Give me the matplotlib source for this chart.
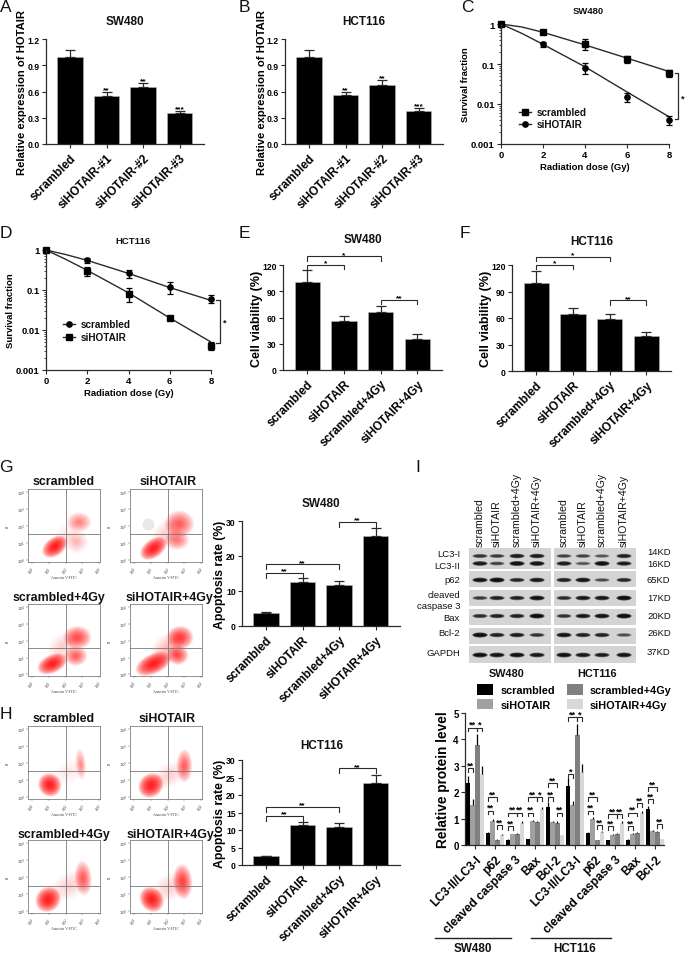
#!/usr/bin/env python3
# -*- coding: utf-8 -*-
import numpy as np
import matplotlib
matplotlib.use("Agg")
import matplotlib.pyplot as plt
from matplotlib.patches import Ellipse, Rectangle

plt.rcParams['font.family'] = ['Liberation Sans', 'DejaVu Sans']

W, H = 685, 954
LINE = '#2a2a2a'

# panels A, B
hotair_labels = ["scrambled", "siHOTAIR-#1", "siHOTAIR-#2", "siHOTAIR-#3"]
hotair_sw = [1.0, 0.55, 0.65, 0.35]
hotair_sw_err = [0.07, 0.05, 0.05, 0.03]
hotair_sw_stars = ["", "**", "**", "***"]
hotair_hct = [1.0, 0.56, 0.68, 0.38]
hotair_hct_err = [0.07, 0.04, 0.055, 0.03]

# panels C, D
dose = [0, 2, 4, 6, 8]
fit_dose = [0, 1, 2, 4, 6, 8]
surv_c_sc = [1.0, 0.62, 0.32, 0.13, 0.06]
surv_c_sc_err = [0.03, 0.05, 0.09, 0.025, 0.012]
surv_c_sc_fit = [1.0, 0.84, 0.62, 0.30, 0.14, 0.065]
surv_c_si = [1.0, 0.31, 0.08, 0.015, 0.004]
surv_c_si_err = [0.03, 0.04, 0.025, 0.004, 0.001]
surv_c_si_fit = [1.0, 0.58, 0.31, 0.085, 0.02, 0.0048]
surv_d_sc = [1.0, 0.55, 0.26, 0.12, 0.06]
surv_d_sc_err = [0.03, 0.07, 0.06, 0.04, 0.013]
surv_d_sc_fit = [1.0, 0.76, 0.55, 0.26, 0.115, 0.055]
surv_d_si = [1.0, 0.3, 0.08, 0.02, 0.004]
surv_d_si_err = [0.03, 0.07, 0.03, 0.002, 0.0009]
surv_d_si_fit = [1.0, 0.57, 0.31, 0.085, 0.02, 0.005]

# panels E, F, G, H
treat_labels = ["scrambled", "siHOTAIR", "scrambled+4Gy", "siHOTAIR+4Gy"]
viab_sw = [101, 56, 66, 36]
viab_sw_err = [13, 6, 7, 5]
viab_hct = [100, 65, 59, 40]
viab_hct_err = [13, 6.5, 5.5, 4]
apop_sw = [3.7, 12.5, 11.8, 25.6]
apop_sw_err = [0.2, 1.2, 1.0, 2.4]
apop_hct = [2.5, 11.3, 11.0, 23.5]
apop_hct_err = [0.2, 1.0, 0.9, 2.2]

# flow clusters: x, y (decades), rx, ry, angle, strength
flow_g1 = [(1.35, 0.8, 0.85, 0.55, 35, 1.0), (2.8, 2.25, 0.75, 0.6, 0, 0.3), (2.65, 1.1, 0.7, 0.7, 0, 0.18), (2.0, 1.5, 1.0, 0.6, 40, 0.07)]
flow_g2 = [(1.15, 0.7, 0.9, 0.55, 35, 1.0), (2.7, 2.15, 0.9, 0.8, 0, 0.45), (2.55, 1.2, 0.75, 0.6, 0, 0.38), (1.9, 1.6, 1.1, 0.7, 40, 0.12)]
flow_g3 = [(1.2, 0.63, 0.95, 0.55, 25, 1.0), (2.7, 2.2, 0.85, 0.7, 0, 0.55), (2.6, 1.1, 0.7, 0.6, 0, 0.45), (1.8, 1.7, 1.0, 0.7, 40, 0.12)]
flow_g4 = [(1.15, 0.63, 1.15, 0.6, 25, 1.0), (2.75, 2.2, 0.8, 0.7, 0, 0.7), (2.6, 1.15, 0.65, 0.6, 0, 0.6), (2.0, 1.6, 1.2, 0.8, 40, 0.16)]
flow_h1 = [(1.05, 0.73, 0.68, 0.72, 45, 1.0), (2.9, 1.95, 0.32, 0.95, 5, 0.28), (2.2, 1.5, 1.1, 0.7, 30, 0.07)]
flow_h2 = [(1.0, 0.7, 0.8, 0.7, 40, 1.0), (3.0, 1.85, 0.48, 1.0, 0, 0.45), (2.1, 1.3, 1.1, 0.7, 30, 0.1)]
flow_h3 = [(0.95, 0.7, 0.8, 0.72, 45, 1.0), (3.05, 1.95, 0.52, 1.05, 5, 0.45), (2.2, 1.5, 1.2, 0.8, 30, 0.12)]
flow_h4 = [(1.05, 0.7, 0.68, 0.8, 40, 1.0), (2.9, 1.75, 0.58, 1.05, 5, 0.65), (2.1, 1.4, 1.1, 0.8, 30, 0.1)]

# blot band darkness per row/lane
blot_rows = ["LC3-I", "LC3-II", "p62", "cleaved", "Bax", "Bcl-2", "GAPDH"]
blot_sw = [[0.6, 0.55, 0.8, 0.8], [0.85, 0.5, 0.95, 0.9], [0.9, 1.0, 0.7, 0.85],
           [0.55, 0.75, 0.75, 0.95], [0.65, 0.75, 0.75, 1.0], [1.0, 0.75, 0.8, 0.6], [0.95, 0.9, 0.95, 0.85]]
blot_hct = [[0.5, 0.5, 0.4, 0.75], [0.8, 0.4, 0.95, 0.8], [0.75, 0.9, 0.45, 0.7],
            [0.65, 0.85, 0.85, 1.0], [0.6, 0.85, 0.9, 1.0], [0.9, 0.75, 0.75, 0.45], [0.95, 0.85, 0.8, 0.9]]
kd_labels = ["14KD", "16KD", "65KD", "17KD", "20KD", "26KD", "37KD"]

# panel I
protein_labels = ["LC3-II/LC3-I", "p62", "cleaved caspase 3", "Bax", "Bcl-2"] * 2
prot_sc = [2.35, 0.45, 0.2, 0.22, 1.43, 2.25, 0.47, 0.18, 0.2, 1.35]
prot_si = [1.5, 0.92, 0.4, 0.9, 0.87, 1.5, 1.0, 0.38, 0.43, 0.52]
prot_sc4 = [3.8, 0.2, 0.42, 0.87, 0.85, 4.15, 0.18, 0.42, 0.45, 0.5]
prot_si4 = [2.7, 0.38, 0.85, 1.35, 0.37, 2.75, 0.48, 0.85, 1.2, 0.22]
prot_sc_err = [0.25, 0.03, 0.02, 0.02, 0.2, 0.3, 0.03, 0.02, 0.02, 0.12]
prot_si_err = [0.25, 0.07, 0.03, 0.05, 0.05, 0.15, 0.05, 0.03, 0.03, 0.03]
prot_sc4_err = [0.4, 0.02, 0.03, 0.05, 0.05, 0.45, 0.02, 0.03, 0.03, 0.03]
prot_si4_err = [0.3, 0.05, 0.05, 0.1, 0.02, 0.3, 0.05, 0.05, 0.1, 0.02]
prot_colors = ['black', '#a0a0a0', '#808080', '#d8d8d8']
prot_names = ["scrambled", "siHOTAIR", "scrambled+4Gy", "siHOTAIR+4Gy"]
sig_group = [0, 0, 0, 1, 1, 1, 2, 2, 2, 3, 3, 3, 4, 4, 4, 5, 5, 5, 6, 6, 6, 7, 7, 7, 8, 8, 8, 9, 9, 9]
sig_left = [0, 0, 2] * 10
sig_right = [1, 2, 3] * 10
sig_y = [2.9, 4.45, 4.45, 1.3, 1.8, 0.75, 0.72, 1.23, 1.23, 1.23, 1.82, 1.82, 1.8, 2.33, 1.23,
         2.68, 4.83, 4.83, 1.3, 1.8, 0.76, 0.72, 1.16, 1.16, 0.72, 1.23, 1.58, 1.73, 2.2, 0.78]
sig_text = ["**", "**", "*", "**", "**", "**", "**", "**", "**", "**", "**", "*", "**", "**", "**",
            "*", "**", "*", "**", "**", "**", "**", "**", "**", "**", "**", "**", "**", "**", "**"]


fig = plt.figure(figsize=(W / 100, H / 100), dpi=100)
over = fig.add_axes([0, 0, 1, 1], zorder=5)
over.set_xlim(0, W)
over.set_ylim(H, 0)
over.axis('off')


def axes_px(x0, y0, x1, y1):
    return fig.add_axes([x0 / W, 1 - y1 / H, (x1 - x0) / W, (y1 - y0) / H])


def label(x, y, s, size=8, weight='bold', ha='center', rot=0, **kw):
    over.text(x, y, s, fontsize=size, fontweight=weight, ha=ha, va='center', rotation=rot, color='#111111', **kw)


def style(ax, ticksize=6.2):
    for side in ['top', 'right']:
        ax.spines[side].set_visible(False)
    for side in ['left', 'bottom']:
        ax.spines[side].set_linewidth(0.9)
        ax.spines[side].set_color(LINE)
    ax.tick_params(length=3, width=0.8, color=LINE, pad=1.5, labelsize=ticksize)
    for t in ax.get_yticklabels() + ax.get_xticklabels():
        t.set_fontweight('bold')


def bracket(ax, x0, x1, y, drop, text, size=6, lw=0.8):
    ax.plot([x0, x0, x1, x1], [y - drop, y, y, y - drop], color=LINE, lw=lw, clip_on=False, solid_joinstyle='miter')
    ax.text((x0 + x1) / 2, y - drop * 0.35, text, ha='center', va='bottom', fontsize=size, fontweight='bold', clip_on=False)


def bar_panel(box, ymax, yticks, vals, errs, names, ylab, ylab_x, lab_size=8.5, ylab_size=9):
    ax = axes_px(*box)
    xpos = np.arange(len(vals))
    ax.bar(xpos, vals, width=0.69, color='black', edgecolor='#b5b5b5', linewidth=0.4)
    ax.errorbar(xpos, vals, yerr=[np.zeros(len(vals)), errs], fmt='none', ecolor=LINE, elinewidth=0.9, capsize=3.8, capthick=0.9)
    ax.set_xlim(-0.66, 3.67)
    ax.set_ylim(0, ymax)
    ax.set_yticks(yticks)
    ax.set_xticks(xpos)
    ax.set_xticklabels(names, rotation=45, ha='right', rotation_mode='anchor', fontsize=lab_size, fontweight='bold')
    style(ax)
    for t in ax.get_xticklabels():
        t.set_fontsize(lab_size)
    ax.tick_params(axis='x', pad=2.5)
    ax.set_ylabel(ylab, fontsize=ylab_size, fontweight='bold', labelpad=0)
    # label anchor is its right edge, so add half a text height
    ax.yaxis.set_label_coords((ylab_x + 5 - box[0]) / (box[2] - box[0]), 0.5)
    return ax


def survival_panel(box, sc, sc_err, sc_fit, si, si_err, si_fit, sc_m, si_m):
    ax = axes_px(*box)
    ax.set_yscale('log')
    ax.plot(fit_dose, sc_fit, color=LINE, lw=1.0)
    ax.plot(fit_dose, si_fit, color=LINE, lw=1.0)
    ax.errorbar(dose, sc, yerr=sc_err, fmt=sc_m, color='black', ms=3.8, elinewidth=1, capsize=2, capthick=0.9, clip_on=False)
    ax.errorbar(dose, si, yerr=si_err, fmt=si_m, color='black', ms=3.8, elinewidth=1, capsize=2, capthick=0.9, clip_on=False)
    ax.set_xlim(0, 8)
    ax.set_ylim(0.001, 1)
    ax.set_xticks(dose)
    ax.set_yticks([0.001, 0.01, 0.1, 1])
    ax.set_yticklabels(["0.001", "0.01", "0.1", "1"])
    style(ax, 6.8)
    ax.tick_params(which='minor', length=1.6, width=0.6, color=LINE)
    ax.set_xlabel("Radiation dose (Gy)", fontsize=6.8, fontweight='bold', labelpad=2)
    ax.set_ylabel("Survival fraction", fontsize=6.8, fontweight='bold', labelpad=1)
    return ax


# A
ax = bar_panel((46, 40, 204, 145), 1.2, [0, 0.3, 0.6, 0.9, 1.2], hotair_sw, hotair_sw_err, hotair_labels,
               "Relative expression of HOTAIR", 22, ylab_size=8.1)
ax.set_yticklabels(["0.0", "0.3", "0.6", "0.9", "1.2"])
for i, s in enumerate(hotair_sw_stars):
    ax.text(i, hotair_sw[i] + hotair_sw_err[i] - 0.015, s, ha='center', va='bottom', fontsize=6, fontweight='bold')
label(125, 22, "SW480", 8.5)
# B
ax = bar_panel((285, 40, 443, 145), 1.2, [0, 0.3, 0.6, 0.9, 1.2], hotair_hct, hotair_hct_err, hotair_labels,
               "Relative expression of HOTAIR", 262, ylab_size=8.1)
ax.set_yticklabels(["0.0", "0.3", "0.6", "0.9", "1.2"])
for i, s in enumerate(hotair_sw_stars):
    ax.text(i, hotair_hct[i] + hotair_hct_err[i] - 0.015, s, ha='center', va='bottom', fontsize=6, fontweight='bold')
label(364, 22, "HCT116", 8.5)

# C
ax = survival_panel((501, 25, 669, 145), surv_c_sc, surv_c_sc_err, surv_c_sc_fit, surv_c_si, surv_c_si_err, surv_c_si_fit, 's', 'o')
ax.yaxis.set_label_coords((470 - 501) / 168, 0.5)
label(588, 11, "SW480", 6.8)
over.plot([519, 531], [113, 113], color=LINE, lw=1)
over.plot([525], [113], 's', color='black', ms=3.8)
over.plot([519, 531], [125, 125], color=LINE, lw=1)
over.plot([525], [125], 'o', color='black', ms=3.8)
label(537, 113, "scrambled", 7.2, ha='left')
label(537, 125, "siHOTAIR", 7.2, ha='left')
over.plot([675, 678, 678, 675], [74, 74, 120, 120], color=LINE, lw=0.9)
label(683, 99, "*", 6.5)

# D
ax = survival_panel((46, 251, 211, 371), surv_d_sc, surv_d_sc_err, surv_d_sc_fit, surv_d_si, surv_d_si_err, surv_d_si_fit, 'o', 's')
ax.yaxis.set_label_coords((15 - 46) / 165, 0.5)
label(133, 242, "HCT116", 6.8)
over.plot([63, 75], [325, 325], color=LINE, lw=1)
over.plot([69], [325], 'o', color='black', ms=3.8)
over.plot([63, 75], [338, 338], color=LINE, lw=1)
over.plot([69], [338], 's', color='black', ms=3.8)
label(81, 325, "scrambled", 7.2, ha='left')
label(81, 338, "siHOTAIR", 7.2, ha='left')
over.plot([216, 220, 220, 216], [301, 301, 344, 344], color=LINE, lw=0.9)
label(225, 323, "*", 6.5)

# E
ax = bar_panel((283, 266, 442, 371), 120, [0, 30, 60, 90, 120], viab_sw, viab_sw_err, treat_labels, "Cell viability (%)", 258)
bracket(ax, 0, 2, 130, 5, "*")
bracket(ax, 0, 1, 120, 5, "*")
bracket(ax, 2, 3, 80, 5, "**")
label(363, 240, "SW480", 8.5)
# F
ax = bar_panel((512, 266, 671, 372), 120, [0, 30, 60, 90, 120], viab_hct, viab_hct_err, treat_labels, "Cell viability (%)", 487)
bracket(ax, 0, 2, 129, 5, "*")
bracket(ax, 0, 1, 120, 5, "*")
bracket(ax, 2, 3, 80, 5, "**")
label(592, 242, "HCT116", 8.5)
# G
ax = bar_panel((242, 522, 400, 627), 30, [0, 10, 20, 30], apop_sw, apop_sw_err, treat_labels, "Apoptosis rate (%)", 221, ylab_size=8.8)
bracket(ax, 0, 2, 17.7, 1.4, "**")
bracket(ax, 0, 1, 15.2, 1.4, "**")
bracket(ax, 2, 3, 29.8, 1.4, "**")
label(321, 504, "SW480", 8.5)
# H
ax = bar_panel((242, 761, 400, 866), 30, [0, 5, 10, 15, 20, 25, 30], apop_hct, apop_hct_err, treat_labels, "Apoptosis rate (%)", 221, ylab_size=8.8)
bracket(ax, 0, 2, 16.6, 1.4, "**")
bracket(ax, 0, 1, 14.0, 1.4, "**")
bracket(ax, 2, 3, 27.7, 1.4, "**")
label(322, 746, "HCT116", 8.5)


def flow_panel(box, clusters, cross_y, title, title_x, title_y):
    ax = axes_px(*box)
    for cx, cy, rx, ry, ang, strength in clusters:
        for k in np.linspace(1.0, 0.15, 24):
            ax.add_patch(Ellipse((cx, cy), 2 * rx * k, 2 * ry * k, angle=ang, color='#ff0000', lw=0, alpha=0.075 * strength))
    ax.set_xlim(-0.25, 4.05)
    ax.set_ylim(-0.1, 4.2)
    ax.axvline(2.0, color='#777777', lw=0.6)
    ax.axhline((box[3] - cross_y) / (box[3] - box[1]) * 4.3 - 0.1, color='#777777', lw=0.6)
    ticks = [0, 1, 2, 3, 4]
    names = [r"$10^{%d}$" % t for t in ticks]
    ax.set_xticks(ticks)
    ax.set_yticks(ticks)
    ax.set_xticklabels(names, rotation=45, fontsize=2.8, fontfamily='Liberation Serif')
    ax.set_yticklabels(names, fontsize=2.8, fontfamily='Liberation Serif')
    ax.tick_params(length=1.2, width=0.3, pad=0.8, color='#555555', labelcolor='#444444')
    for s in ax.spines.values():
        s.set_linewidth(0.5)
        s.set_color('#666666')
    mid = (box[0] + box[2]) / 2
    over.text(mid, box[3] + 15, "Annexin V-FITC", fontsize=2.8, family='Liberation Serif', ha='center', va='center', color='#444444')
    over.text(box[0] - 20, (box[1] + box[3]) / 2, "PI", fontsize=2.8, family='Liberation Serif', ha='center', va='center', rotation=90, color='#444444')
    label(title_x, title_y, title, 8.9)
    return ax


flow_panel((28, 490, 100, 563), flow_g1, 535, "scrambled", 64, 482)
ax = flow_panel((130, 490, 202, 563), flow_g2, 535, "siHOTAIR", 168, 482)
ax.add_patch(Ellipse((0.85, 2.1), 0.7, 0.7, color='#e8e8e8', lw=0, zorder=3))
flow_panel((28, 605, 100, 677), flow_g3, 649, "scrambled+4Gy", 59, 598)
flow_panel((130, 605, 202, 677), flow_g4, 649, "siHOTAIR+4Gy", 169, 598)
flow_panel((28, 727, 100, 800), flow_h1, 772, "scrambled", 64, 719)
flow_panel((130, 727, 202, 800), flow_h2, 772, "siHOTAIR", 167, 719)
flow_panel((28, 841, 100, 914), flow_h3, 887, "scrambled+4Gy", 64, 835)
flow_panel((130, 841, 202, 914), flow_h4, 887, "siHOTAIR+4Gy", 170, 835)

# western blot
row_tops = [549, 549, 572, 591, 610, 629, 647]
row_bots = [570, 570, 588, 607, 626, 645, 664]
band_y = [557, 564.5, 581, 599, 617, 636, 656]
lanes_sw = [480, 497, 517, 537]
lanes_hct = [564, 583, 602, 624]
for x0, x1, lanes, rows in [(469, 551, lanes_sw, blot_sw), (554, 636, lanes_hct, blot_hct)]:
    for top, bot in zip(row_tops, row_bots):
        over.add_patch(Rectangle((x0, top), x1 - x0, bot - top, color='#d4d4d4', lw=0))
    for yb, row in zip(band_y, rows):
        for lane, dark in zip(lanes, row):
            for k in np.linspace(1.0, 0.4, 6):
                over.add_patch(Ellipse((lane, yb), 15.5 * k ** 0.4, 4.8 * k * (0.6 + 0.5 * dark), color='#000000', lw=0, alpha=0.36 * dark))
for lane_x in lanes_sw + lanes_hct:
    name = treat_labels[(lanes_sw + lanes_hct).index(lane_x) % 4]
    over.text(lane_x, 547, name, rotation=90, fontsize=7.6, ha='center', va='bottom', color='#111111')
for y, s in zip([555, 567, 581, 596, 607, 619, 634, 654], ["LC3-I", "LC3-II", "p62", "cleaved", "caspase 3", "Bax", "Bcl-2", "GAPDH"]):
    label(460, y, s, 6.8, ha='right', weight='normal')
for y, s in zip([553, 565, 581, 599, 617, 634, 653], kd_labels):
    label(647, y, s, 6.8, ha='left', weight='normal')
label(507, 674, "SW480", 7.8)
label(597, 674, "HCT116", 7.8)

# I
box = (465, 714, 664, 846)
ax = axes_px(*box)
xpos = np.arange(len(protein_labels))
bw = 0.235
prot_vals = [prot_sc, prot_si, prot_sc4, prot_si4]
prot_errs = [prot_sc_err, prot_si_err, prot_sc4_err, prot_si4_err]
for j in range(4):
    off = (j - 1.5) * bw
    ax.bar(xpos + off, prot_vals[j], width=bw, color=prot_colors[j], label=prot_names[j])
    ax.errorbar(xpos + off, prot_vals[j], yerr=[np.zeros(10), prot_errs[j]], fmt='none', ecolor='black', elinewidth=0.9)
ax.set_xlim(-0.5, 9.45)
ax.set_ylim(0, 5)
ax.set_yticks([0, 1, 2, 3, 4, 5])
ax.set_xticks(xpos)
ax.set_xticklabels(protein_labels, rotation=45, ha='right', rotation_mode='anchor', fontsize=8.6, fontweight='bold')
style(ax, 7)
for t in ax.get_xticklabels():
    t.set_fontsize(8.6)
ax.tick_params(axis='x', pad=3)
ax.set_ylabel("Relative protein level", fontsize=9.8, fontweight='bold')
ax.yaxis.set_label_coords((450 - 465) / 199, 0.5)
for g, a, b, y, s in zip(sig_group, sig_left, sig_right, sig_y, sig_text):
    xa = g + (a - 1.5) * bw
    xb = g + (b - 1.5) * bw
    bracket(ax, xa, xb, y, 0.14, s, size=6.5, lw=0.8)
ax.legend(ncol=2, loc='lower left', bbox_to_anchor=((474 - 465) / 199, 1.0), frameon=False,
          prop={'weight': 'bold', 'size': 7.8}, handlelength=1.47, handleheight=1.1, columnspacing=1.1,
          labelspacing=0.35, handletextpad=0.65, borderpad=0, borderaxespad=0.3)
over.plot([435, 511], [939, 939], color='#222222', lw=1)
over.plot([531, 611], [939, 939], color='#222222', lw=1)
label(473, 949, "SW480", 8.4)
label(575, 949, "HCT116", 8.4)

for x, y, s in [(6, 7, "A"), (244, 7, "B"), (467, 7, "C"), (6, 234, "D"), (244, 234, "E"), (465, 234, "F"),
                (6, 468, "G"), (6, 715, "H"), (418, 468, "I")]:
    label(x, y, s, 12.5, weight='normal')

fig.savefig("out.png", dpi=100)
